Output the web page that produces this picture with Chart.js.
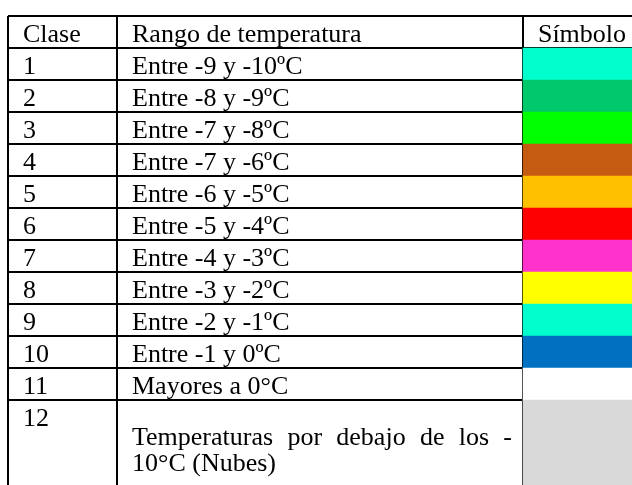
<!DOCTYPE html>
<html>
<head>
<meta charset="utf-8">
<script src="https://cdn.jsdelivr.net/npm/chart.js@4/dist/chart.umd.min.js"></script>
<style>
  html, body { margin: 0; padding: 0; background: #fff; overflow: hidden; }
  #wrap { width: 650px; height: 500px; }
</style>
</head>
<body>
<div id="wrap"><canvas id="tabla" width="650" height="500"></canvas></div>
<script>
// datos de la tabla
const encabezados = ['Clase', 'Rango de temperatura', 'Símbolo'];
const clases = ['1', '2', '3', '4', '5', '6', '7', '8', '9', '10', '11', '12'];
const rangos = [
    'Entre -9 y -10ºC',
    'Entre -8 y -9ºC',
    'Entre -7 y -8ºC',
    'Entre -7 y -6ºC',
    'Entre -6 y -5ºC',
    'Entre -5 y -4ºC',
    'Entre -4 y -3ºC',
    'Entre -3 y -2ºC',
    'Entre -2 y -1ºC',
    'Entre -1 y 0ºC',
    'Mayores a 0°C',
    'Temperaturas por debajo de los -10°C (Nubes)'
];
const simbolos = [
    '#00FFCC', '#00C96B', '#00FF00', '#C55A11', '#FFC000', '#FF0000',
    '#FF33CC', '#FFFF00', '#00FFCC', '#0070C0', '#FFFFFF', '#D9D9D9'
];

// layout (columnas en px, filas en unidades de 32px)
const colEdges = [0, 109, 515, 633];
const rowSpan = [1, 1, 1, 1, 1, 1, 1, 1, 1, 1, 1, 1, 3]; // encabezado + 12 filas
const rowEdges = [0];
rowSpan.forEach(s => rowEdges.push(rowEdges[rowEdges.length - 1] + s));

const FONT = '26px "Liberation Serif", "Times New Roman", serif';
const PAD = 15;
const LINE_H = 26;

const symX = (colEdges[2] + colEdges[3]) / 2;

// parte el texto en lineas; permite cortar despues de un guion inicial
function wrap(ctx, txt, maxW) {
    const lines = [];
    let cur = [];
    const fits = arr => ctx.measureText(arr.join(' ')).width <= maxW;
    txt.split(' ').forEach(w => {
        if (!cur.length || fits(cur.concat([w]))) { cur.push(w); return; }
        if (w.length > 1 && w[0] === '-' && fits(cur.concat(['-']))) {
            cur.push('-');
            lines.push(cur);
            cur = [w.slice(1)];
            return;
        }
        lines.push(cur);
        cur = [w];
    });
    lines.push(cur);
    return lines;
}

const textPlugin = {
    id: 'tablaTexto',
    afterDraw(chart) {
        const ctx = chart.ctx;
        const xs = chart.scales.x, ys = chart.scales.y;
        ctx.save();
        ctx.font = FONT;
        ctx.fillStyle = '#000';
        ctx.textBaseline = 'alphabetic';

        const rowsText = [encabezados].concat(clases.map((c, i) => [c, rangos[i]]));
        rowsText.forEach((cells, r) => {
            const top = ys.getPixelForValue(rowEdges[r]);
            const bot = ys.getPixelForValue(rowEdges[r + 1]);
            cells.forEach((txt, c) => {
                const left = xs.getPixelForValue(colEdges[c]);
                const right = xs.getPixelForValue(colEdges[c + 1]);
                if (r === 0 && c === 2) {
                    ctx.textAlign = 'center';
                    ctx.fillText(txt, (left + right) / 2, top + 26);
                    return;
                }
                ctx.textAlign = 'left';
                if (c === 0) {
                    ctx.fillText(txt, left + PAD, top + 26);
                    return;
                }
                // texto justificado, centrado en vertical
                const maxW = right - left - PAD - 11;
                const lines = wrap(ctx, txt, maxW);
                const blockH = lines.length * LINE_H;
                const mid = (top + bot) / 2;
                lines.forEach((ln, k) => {
                    const y = mid - blockH / 2 + 23 + k * LINE_H;
                    if (k < lines.length - 1 && ln.length > 1) {
                        const wsum = ln.reduce((a, w) => a + ctx.measureText(w).width, 0);
                        const gap = (maxW - wsum) / (ln.length - 1);
                        let x = left + PAD;
                        ln.forEach(w => {
                            ctx.fillText(w, x, y);
                            x += ctx.measureText(w).width + gap;
                        });
                    } else {
                        ctx.fillText(ln.join(' '), left + PAD, y);
                    }
                });
            });
        });
        ctx.restore();
    }
};

const gridOpts = {
    color: '#000',
    lineWidth: 2,
    drawTicks: false,
    offset: false
};

new Chart(document.getElementById('tabla'), {
    type: 'bar',
    data: {
        datasets: [{
            label: 'Símbolo',
            data: simbolos.map((c, i) => ({ x: symX, y: [rowEdges[i + 1], rowEdges[i + 2]] })),
            backgroundColor: simbolos,
            borderWidth: 0,
            barThickness: colEdges[3] - colEdges[2]
        }]
    },
    options: {
        responsive: false,
        animation: false,
        layout: { padding: { left: 8, top: 16, right: 9, bottom: 4 } },
        plugins: { legend: { display: false }, tooltip: { enabled: false } },
        scales: {
            x: {
                type: 'linear',
                offset: false,
                min: colEdges[0],
                max: colEdges[colEdges.length - 1],
                z: 1,
                afterBuildTicks: (s) => { s.ticks = colEdges.map(v => ({ value: v })); },
                grid: gridOpts,
                ticks: { display: false },
                border: { display: false }
            },
            y: {
                type: 'linear',
                offset: false,
                reverse: true,
                min: rowEdges[0],
                max: rowEdges[rowEdges.length - 1],
                z: 1,
                afterBuildTicks: (s) => { s.ticks = rowEdges.map(v => ({ value: v })); },
                grid: gridOpts,
                ticks: { display: false },
                border: { display: false }
            }
        }
    },
    plugins: [textPlugin]
});
</script>
</body>
</html>
